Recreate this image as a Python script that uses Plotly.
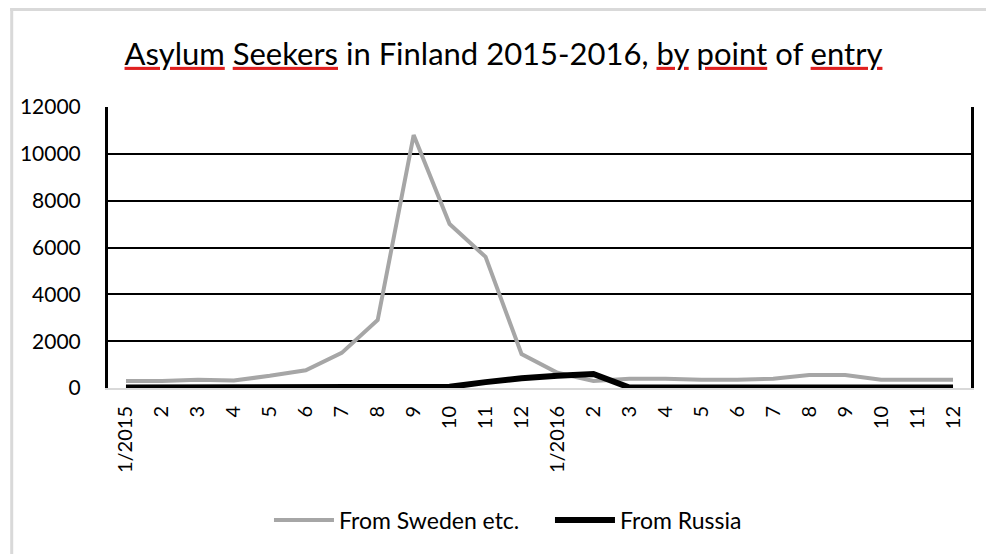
import plotly.graph_objects as go

# ---- data ----
months = ["1/2015", "2", "3", "4", "5", "6", "7", "8", "9", "10", "11", "12",
          "1/2016", "2", "3", "4", "5", "6", "7", "8", "9", "10", "11", "12"]
from_sweden = [300, 300, 350, 320, 520, 760, 1500, 2900, 10800, 7000, 5600, 1450,
               650, 300, 400, 400, 350, 350, 400, 550, 550, 350, 350, 350]
from_russia = [20, 20, 20, 20, 20, 20, 20, 20, 20, 50, 250, 420,
               520, 600, 20, 20, 20, 20, 20, 20, 20, 20, 20, 20]
y_ticks = [0, 2000, 4000, 6000, 8000, 10000, 12000]
y_labels = [str(v) for v in y_ticks]

OFF = 8  # page body margin
W, H = 994 - OFF, 554 - OFF
ML, MR, MT, MB = 98, 23, 99, 166
PW, PH = W - ML - MR, H - MT - MB

FONT = "Lato"
xpos = list(range(len(months)))


def px_x(p):  # page pixel -> paper x
    return (p - OFF - ML) / PW


def px_y(p):  # page pixel -> paper y
    return (H - MB - (p - OFF)) / PH


fig = go.Figure()
fig.add_trace(go.Scatter(x=xpos, y=from_sweden, mode="lines", name="From Sweden etc.",
                         line=dict(color="#a6a6a6", width=4)))
fig.add_trace(go.Scatter(x=xpos, y=from_russia, mode="lines", name="From Russia",
                         line=dict(color="#000000", width=6)))


def u(w):
    return ("<span style='color:#e02020;text-decoration:underline'>"
            "<span style='color:#000000'>" + w + "</span></span>")


title = (u("Asylum") + " " + u("Seekers") + " in Finland 2015-2016, " + u("by") + " "
         + u("point") + " of " + u("entry"))

fig.update_layout(
    width=W, height=H,
    margin=dict(l=ML, r=MR, t=MT, b=MB),
    paper_bgcolor="white", plot_bgcolor="white",
    font=dict(family=FONT, color="#000000"),
    title=dict(text=title, x=(503.5 - OFF) / W, xref="container", xanchor="center",
               y=1 - (54 - OFF) / H, yanchor="middle", font=dict(size=31, family=FONT)),
    xaxis=dict(range=[-0.5, len(months) - 0.5], tickmode="array", tickvals=xpos,
               ticktext=months, tickangle=-90, showgrid=False, zeroline=False,
               showline=True, linecolor="#d9d9d9", linewidth=2,
               ticks="outside", ticklen=8, tickcolor="rgba(0,0,0,0)",
               tickfont=dict(size=20, family=FONT)),
    yaxis=dict(range=[0, 12000], tickmode="array", tickvals=y_ticks, ticktext=y_labels,
               showgrid=True, gridcolor="#000000",
               gridwidth=2, zeroline=True, zerolinecolor="#d9d9d9", zerolinewidth=2,
               showline=True, mirror=True, linecolor="#000000", linewidth=3,
               ticks="outside", ticklen=20, tickcolor="rgba(0,0,0,0)",
               tickfont=dict(size=21, family=FONT)),
    legend=dict(orientation="h", x=px_x(549), xanchor="center", y=px_y(520), yanchor="middle",
                font=dict(size=23, family=FONT), itemwidth=60, entrywidth=206,
                bgcolor="rgba(0,0,0,0)"),
    showlegend=True,
    shapes=[
        dict(type="line", xref="paper", yref="paper", x0=px_x(8), x1=px_x(1000),
             y0=px_y(9.5), y1=px_y(9.5), line=dict(color="#d9d9d9", width=3), layer="below"),
        dict(type="line", xref="paper", yref="paper", x0=px_x(9.5), x1=px_x(9.5),
             y0=px_y(8), y1=px_y(560), line=dict(color="#d9d9d9", width=3), layer="below"),
    ],
)

fig.write_html("out.html")
